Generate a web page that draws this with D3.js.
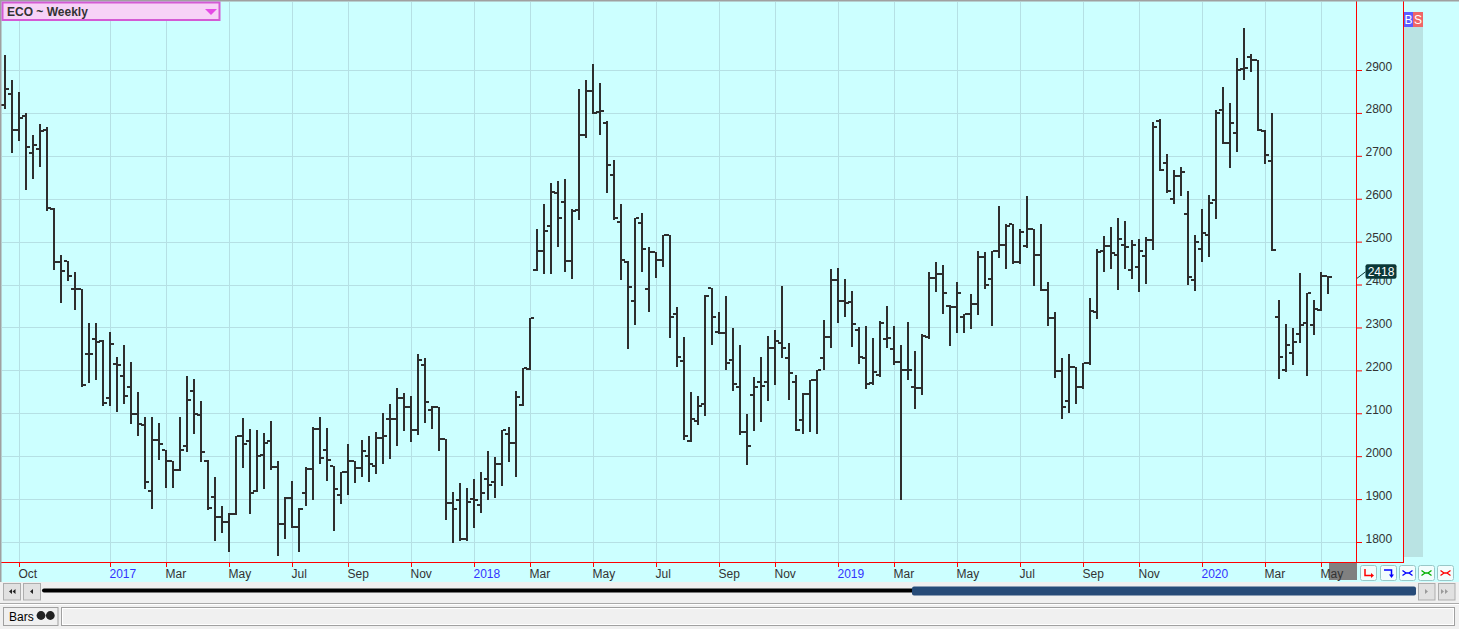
<!DOCTYPE html>
<html><head><meta charset="utf-8">
<script src="https://cdn.jsdelivr.net/npm/d3@7"></script>
<style>
body{margin:0;overflow:hidden;background:#f0f0f0}
svg{display:block}
text{font-family:"Liberation Sans",Arial,sans-serif}
</style>
</head><body>
<svg id="c" width="1459" height="629"></svg>
<script>
// ---------------- data ----------------
const chartTitle = "ECO ~ Weekly";
const firstWeek = new Date(2016, 8, 23);   // first weekly bar (Friday)
const afterLastWeek = new Date(2020, 4, 9); // day after last bar
const opens = [2818,2844,2761,2793,2707,2716,2761,2576,2453,2454,
2389,2389,2238,2274,2269,2135,2215,2187,2161,2098,
2072,1919,2037,2015,1989,1968,2024,2153,2095,1988,
1906,1859,1846,1866,2046,2035,1919,2003,2035,1975,
1843,1903,1836,1915,1969,2063,2015,1977,1909,1964,
1988,1972,2000,1977,2043,2087,2087,2135,2115,2061,
2213,2108,2114,2041,1891,1897,1807,1900,1886,1947,
1940,1982,2051,2031,2119,2204,2434,2479,2536,2613,
2593,2456,2574,2748,2851,2802,2776,2656,2546,2453,
2361,2544,2389,2477,2458,2516,2331,2222,2035,2083,
2121,2391,2290,2288,2224,2161,2056,2142,2172,2172,
2252,2264,2228,2172,2085,2144,2177,2228,2278,2410,
2361,2359,2294,2228,2170,2190,2273,2250,2220,2200,
2161,2159,2278,2415,2424,2351,2347,2324,2331,2354,
2464,2413,2479,2493,2540,2452,2490,2529,2469,2387,
2323,2198,2129,2207,2161,2217,2337,2479,2490,2470,
2492,2434,2441,2466,2503,2780,2683,2599,2653,2565,
2410,2484,2516,2596,2806,2731,2754,2903,2930,2924,
2759,2688,2325,2202,2241,2284,2310,2305,2340,2421];
const highs = [2934,2877,2848,2799,2748,2774,2768,2579,2469,2454,
2430,2389,2310,2310,2271,2290,2232,2258,2220,2149,
2091,2091,2077,2015,1989,2091,2187,2179,2128,1990,
1952,1883,1867,2046,2088,2063,2061,2055,2083,1988,
1906,1942,1879,1975,2067,2091,2065,1977,1964,2028,
1989,2037,2046,2057,2101,2121,2159,2147,2141,2237,
2228,2118,2114,2041,1916,1938,1927,1946,1962,2012,
1999,2062,2067,2151,2205,2323,2529,2587,2637,2642,
2645,2576,2855,2877,2913,2869,2782,2690,2587,2456,
2556,2566,2488,2477,2516,2516,2348,2278,2149,2140,
2376,2391,2336,2374,2299,2258,2098,2184,2232,2281,
2293,2396,2264,2190,2147,2177,2202,2318,2436,2439,
2413,2385,2301,2304,2275,2314,2350,2304,2258,2312,
2244,2284,2430,2453,2445,2353,2407,2331,2379,2479,
2477,2479,2583,2540,2542,2529,2606,2529,2540,2407,
2337,2228,2237,2207,2217,2368,2482,2513,2533,2556,
2548,2503,2505,2510,2778,2785,2705,2666,2673,2619,
2516,2576,2609,2807,2860,2824,2927,2999,2937,2924,
2761,2799,2364,2308,2299,2427,2380,2364,2430,2421];
const lows = [2812,2708,2738,2623,2649,2677,2574,2436,2359,2411,
2342,2163,2174,2181,2120,2120,2106,2123,2077,2050,
1927,1880,1994,1929,1929,1968,2013,2055,1988,1876,
1805,1824,1779,1865,1975,1867,1919,1927,1970,1770,
1809,1835,1779,1886,1900,1983,1945,1827,1891,1912,
1940,1953,1943,1960,1983,1996,2026,2061,2035,2052,
2080,2065,2015,1854,1799,1805,1805,1835,1869,1900,
1906,1934,1988,1953,2119,2204,2434,2428,2428,2490,
2432,2415,2552,2745,2799,2750,2615,2553,2413,2252,
2307,2432,2338,2417,2443,2278,2211,2039,2035,2074,
2095,2261,2288,2204,2155,2052,1981,2061,2083,2132,
2168,2230,2134,2061,2055,2059,2055,2204,2254,2312,
2327,2257,2218,2159,2168,2188,2254,2215,1900,2179,
2112,2145,2275,2385,2333,2258,2290,2290,2299,2331,
2391,2305,2464,2439,2450,2450,2488,2398,2387,2305,
2184,2088,2102,2123,2159,2215,2323,2432,2439,2390,
2439,2415,2385,2404,2482,2666,2616,2589,2608,2402,
2387,2456,2466,2556,2731,2673,2711,2879,2898,2761,
2684,2480,2183,2198,2214,2267,2190,2284,2340,2380];
const closes = [2855,2761,2787,2720,2726,2759,2579,2453,2432,2421,
2389,2167,2238,2267,2123,2261,2212,2141,2098,2074,
1940,2037,2029,1989,1968,2015,2132,2098,2009,1879,
1859,1846,1866,2046,2029,1915,2000,2031,1975,1843,
1903,1836,1878,1969,2063,1996,1992,1923,1964,1988,
1972,2012,1982,2043,2046,2087,2135,2115,2061,2224,
2127,2114,2041,1891,1878,1807,1893,1897,1915,1932,
1982,2061,2031,2138,2205,2323,2479,2525,2615,2556,
2456,2572,2748,2851,2799,2804,2679,2555,2458,2394,
2555,2484,2477,2458,2516,2324,2232,2048,2087,2118,
2374,2324,2288,2218,2168,2056,2024,2161,2164,2252,
2269,2252,2194,2061,2144,2177,2202,2278,2410,2361,
2357,2307,2230,2168,2196,2310,2276,2220,2202,2200,
2159,2281,2415,2424,2380,2348,2380,2331,2354,2464,
2400,2479,2493,2537,2452,2522,2529,2469,2387,2323,
2198,2114,2207,2161,2217,2338,2475,2490,2473,2507,
2488,2492,2479,2503,2768,2666,2618,2653,2662,2417,
2499,2519,2591,2799,2731,2776,2901,2905,2924,2761,
2702,2480,2230,2258,2267,2305,2380,2342,2421,2418];
const yTicks = [1800,1900,2000,2100,2200,2300,2400,2500,2600,2700,2800,2900];
const xTickMonths = ["2016-10","2017-01","2017-03","2017-05","2017-07","2017-09","2017-11",
"2018-01","2018-03","2018-05","2018-07","2018-09","2018-11",
"2019-01","2019-03","2019-05","2019-07","2019-09","2019-11",
"2020-01","2020-03","2020-05"];
const lastPrice = 2418;

// ---------------- layout ----------------
const W = 1459, H = 629;
const plotRight = 1356, axisY = 562, panelRight = 1403;
const n = opens.length;
let dates = d3.timeFriday.range(firstWeek, afterLastWeek);
const fmtYM = d3.timeFormat("%Y-%m");
const svg = d3.select("#c");

const x = d3.scaleLinear().domain([0, n - 1]).range([5, 5 + 7 * (n - 1)]);
const y = d3.scaleLinear().domain([1800, 2900]).range([542, 70]);

// backgrounds
svg.append("rect").attr("width", W).attr("height", 582).attr("fill", "#ccffff");
svg.append("rect").attr("y", 582).attr("width", W).attr("height", H - 582).attr("fill", "#f0f0f0");
// right side column + B/S
svg.append("rect").attr("x", 1404).attr("y", 27).attr("width", 19).attr("height", 530).attr("fill", "#b9e3e3");
svg.append("rect").attr("x", 1404).attr("y", 12).attr("width", 9).attr("height", 15).attr("fill", "#5c5cff");
svg.append("rect").attr("x", 1413).attr("y", 12).attr("width", 10).attr("height", 15).attr("fill", "#f06666");
svg.append("text").attr("x", 1408.5).attr("y", 24).attr("text-anchor", "middle").attr("fill", "#fff")
  .style("font-size", "12px").text("B");
svg.append("text").attr("x", 1418).attr("y", 24).attr("text-anchor", "middle").attr("fill", "#fff")
  .style("font-size", "12px").text("S");

// tick indices (first weekly bar of each labelled month)
const tickIdx = xTickMonths.map(m => dates.findIndex(d => fmtYM(d) === m)).filter(i => i >= 0);

// gridlines
const grid = svg.append("g").attr("shape-rendering", "crispEdges");
grid.selectAll("line.h").data(yTicks).join("line")
  .attr("x1", 2).attr("x2", plotRight)
  .attr("y1", d => Math.round(y(d)) + 0.5).attr("y2", d => Math.round(y(d)) + 0.5)
  .attr("stroke", "#b5e0e4");
grid.selectAll("line.v").data(tickIdx).join("line")
  .attr("x1", d => x(d) + 0.5).attr("x2", d => x(d) + 0.5)
  .attr("y1", 2).attr("y2", axisY)
  .attr("stroke", "#b5e0e4");

// OHLC bars
const bars = svg.append("g").attr("fill", "#2e2e2e").attr("shape-rendering", "crispEdges");
const idx = d3.range(n);
bars.selectAll("rect.hl").data(idx).join("rect")
  .attr("x", i => x(i) - 1).attr("width", 2)
  .attr("y", i => Math.round(y(highs[i])))
  .attr("height", i => Math.max(2, Math.round(y(lows[i])) - Math.round(y(highs[i])) + 1));
bars.selectAll("rect.o").data(idx).join("rect")
  .attr("x", i => x(i) - 4).attr("width", 3)
  .attr("y", i => Math.round(y(opens[i])) - 1).attr("height", 2);
bars.selectAll("rect.c").data(idx).join("rect")
  .attr("x", i => x(i) + 1).attr("width", 3)
  .attr("y", i => Math.round(y(closes[i])) - 1).attr("height", 2);

// current bar highlight on time axis
svg.append("rect").attr("x", x(n - 1) + 1).attr("y", axisY + 1)
  .attr("width", plotRight + 1 - (x(n - 1) + 1)).attr("height", 17).attr("fill", "#808080");

// x axis
const xAxis = d3.axisBottom(x).tickValues(tickIdx).tickSize(5)
  .tickFormat(i => dates[i].getMonth() === 0 ? d3.timeFormat("%Y")(dates[i]) : d3.timeFormat("%b")(dates[i]));
const gx = svg.append("g").attr("transform", `translate(0,${axisY})`).call(xAxis);
gx.select(".domain").remove();
gx.selectAll(".tick line").attr("stroke", "#ff0000");
gx.selectAll(".tick text")
  .attr("text-anchor", "start").attr("x", -1).attr("y", 15.5).attr("dy", 0)
  .style("font-size", "12px").style("font-family", "'Liberation Sans',Arial,sans-serif")
  .attr("fill", i => dates[i].getMonth() === 0 ? "#3333ff" : "#333333");

// y axis
const yAxis = d3.axisRight(y).tickValues(yTicks).tickSize(6).tickPadding(3.5).tickFormat(d3.format("d"));
const gy = svg.append("g").attr("transform", `translate(${plotRight},0)`).call(yAxis);
gy.select(".domain").remove();
gy.selectAll(".tick line").attr("stroke", "#ff0000");
gy.selectAll(".tick text").attr("dy", 0).attr("y", 0)
  .style("font-size", "12px").style("font-family", "'Liberation Sans',Arial,sans-serif")
  .attr("fill", "#333333");

// red frame lines
const red = svg.append("g").attr("stroke", "#ff0000").attr("shape-rendering", "crispEdges");
red.append("line").attr("x1", 0).attr("x2", panelRight + 1).attr("y1", axisY + 0.5).attr("y2", axisY + 0.5);
red.append("line").attr("x1", plotRight + 0.5).attr("x2", plotRight + 0.5).attr("y1", 1).attr("y2", axisY);
red.append("line").attr("x1", panelRight + 0.5).attr("x2", panelRight + 0.5).attr("y1", 1).attr("y2", axisY);

// last price tag
const ly = y(lastPrice);
svg.append("line").attr("x1", plotRight + 1).attr("y1", ly + 1.5).attr("x2", plotRight + 9.5).attr("y2", ly - 5)
  .attr("stroke", "#0b3838");
svg.append("rect").attr("x", 1365.5).attr("y", ly - 12.5).attr("width", 31).attr("height", 14.5).attr("rx", 2)
  .attr("fill", "#0b3838");
svg.append("text").attr("x", 1381).attr("y", ly - 1).attr("text-anchor", "middle").attr("fill", "#ffffff")
  .style("font-size", "12px").text(d3.format("d")(lastPrice));

// borders
svg.append("rect").attr("x", 0).attr("y", 0).attr("width", W).attr("height", 1.5).attr("fill", "#a0a0a0");
svg.append("rect").attr("x", 0).attr("y", 0).attr("width", 1.5).attr("height", 582).attr("fill", "#a0a0a0");

// title box
svg.append("rect").attr("x", 2.5).attr("y", 2.5).attr("width", 217).attr("height", 17.5)
  .attr("fill", "#f7d2f7").attr("stroke", "#d45ad4").attr("stroke-width", 2);
svg.append("text").attr("x", 7).attr("y", 16).attr("fill", "#333").style("font-size", "12px")
  .style("font-weight", "bold").text(chartTitle);
svg.append("path").attr("d", "M205,9L217,9L211,15Z").attr("fill", "#e64ae6");

// axis-corner buttons
const btnX = [1360.5, 1380.5, 1399.5, 1418.5, 1437.5];
const btn = svg.append("g");
btn.selectAll("rect").data(btnX).join("rect")
  .attr("x", d => d).attr("y", 565.5).attr("width", 16).attr("height", 15).attr("rx", 2)
  .attr("fill", "#f2fdfd").attr("stroke", "#98c8c8");
btn.append("path").attr("d", "M1365,569V575.5H1372").attr("fill", "none").attr("stroke", "#ff0000").attr("stroke-width", 1.5);
btn.append("path").attr("d", "M1371,573L1374,575.5L1371,578Z").attr("fill", "#ff0000");
btn.append("path").attr("d", "M1384,570H1391.5V575").attr("fill", "none").attr("stroke", "#0000ff").attr("stroke-width", 1.5);
btn.append("path").attr("d", "M1389,574.5L1391.5,578L1394,574.5Z").attr("fill", "#0000ff");
const bowCol = ["#0000ff", "#00b000", "#ff0000"];
[1399.5, 1418.5, 1437.5].forEach((bx, k) => {
  btn.append("path")
    .attr("d", `M${bx + 3},570.5L${bx + 6.5},573L${bx + 3},575.5M${bx + 6.5},573H${bx + 9.5}M${bx + 13},570.5L${bx + 9.5},573L${bx + 13},575.5`)
    .attr("fill", "none").attr("stroke", bowCol[k]).attr("stroke-width", 1.3);
});

// scroll bar
const sb = svg.append("g");
[[3.5, 17], [23.5, 17], [1418.5, 16.5], [1438.5, 16.5]].forEach(([bx, bw]) => {
  sb.append("rect").attr("x", bx).attr("y", 583.5).attr("width", bw).attr("height", 16.5)
    .attr("fill", "#e1e1e1").attr("stroke", "#adadad");
});
sb.append("path").attr("d", "M9,591.5L12,589L12,594ZM12.5,591.5L15.5,589L15.5,594Z").attr("fill", "#222");
sb.append("path").attr("d", "M30,591.5L33,589L33,594Z").attr("fill", "#222");
sb.append("path").attr("d", "M1428,591.5L1425,589L1425,594Z").attr("fill", "#9a9a9a");
sb.append("path").attr("d", "M1444,591.5L1441,589L1441,594ZM1448,591.5L1445,589L1445,594Z").attr("fill", "#9a9a9a");
sb.append("rect").attr("x", 42).attr("y", 588.5).attr("width", 872).attr("height", 4).attr("rx", 2).attr("fill", "#000");
sb.append("rect").attr("x", 912).attr("y", 586.5).attr("width", 504).attr("height", 9).attr("rx", 2).attr("fill", "#274b78");

// status bar
svg.append("rect").attr("x", 0).attr("y", 603).attr("width", W).attr("height", 1).attr("fill", "#a9a9a9");
svg.append("rect").attr("x", 0).attr("y", 604).attr("width", W).attr("height", 1).attr("fill", "#ffffff");
svg.append("rect").attr("x", 3.5).attr("y", 607.5).attr("width", 54.5).attr("height", 18)
  .attr("fill", "#f0f0f0").attr("stroke", "#a0a0a0");
svg.append("rect").attr("x", 61.5).attr("y", 607.5).attr("width", 1393).attr("height", 18)
  .attr("fill", "#f0f0f0").attr("stroke", "#a0a0a0");
svg.append("rect").attr("x", 62.5).attr("y", 608.5).attr("width", 1391).attr("height", 16)
  .attr("fill", "none").attr("stroke", "#ffffff");
svg.append("text").attr("x", 9).attr("y", 620.5).attr("fill", "#000").style("font-size", "12px").text("Bars");
svg.append("circle").attr("cx", 41).attr("cy", 615.5).attr("r", 4.4).attr("fill", "#222");
svg.append("circle").attr("cx", 50.3).attr("cy", 615.5).attr("r", 4.4).attr("fill", "#222");
</script>
</body></html>
